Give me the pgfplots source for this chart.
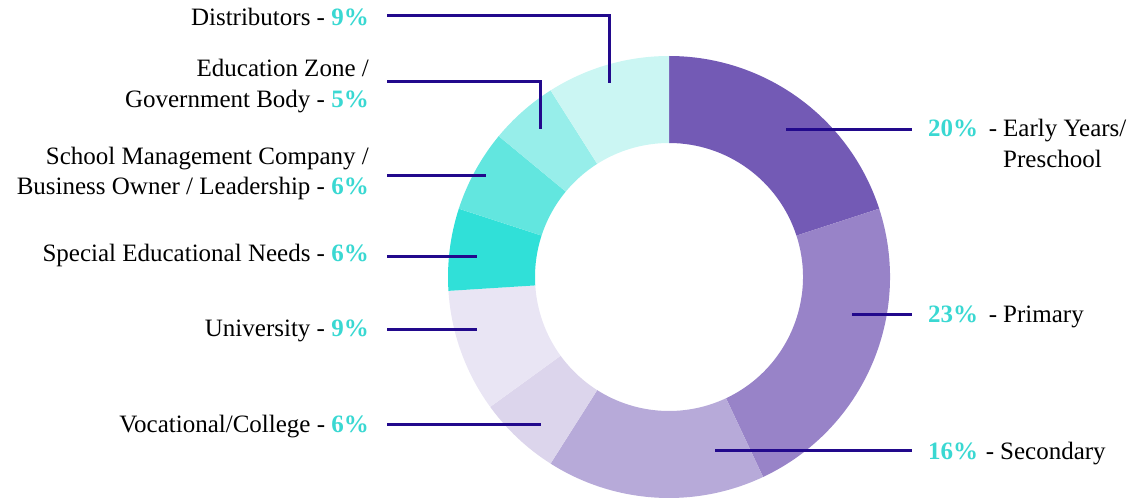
\documentclass[border=0pt]{standalone}
\usepackage{pgfplots}
\pgfplotsset{compat=1.18}
\usepackage{pgfplotstable}
\usepackage{fontspec}
\setmainfont{Liberation Serif}
\usetikzlibrary{calc}

\definecolor{c0}{HTML}{735AB5}
\definecolor{c1}{HTML}{9883C8}
\definecolor{c2}{HTML}{B7AAD9}
\definecolor{c3}{HTML}{DCD5EC}
\definecolor{c4}{HTML}{E9E5F4}
\definecolor{c5}{HTML}{30E0D8}
\definecolor{c6}{HTML}{62E6DF}
\definecolor{c7}{HTML}{97EEEA}
\definecolor{c8}{HTML}{CBF6F3}
\definecolor{leader}{HTML}{22098C}
\definecolor{pct}{HTML}{3AD8D2}

% share of each group, clockwise from the top
\pgfplotstableread[col sep=comma]{
name,value
Early Years/Preschool,20
Primary,23
Secondary,16
Vocational/College,6
University,9
Special Educational Needs,6
School Management Company,6
Education Zone,5
Distributors,9
}\slices

% cumulative start/end angles (clockwise from 90 deg)
\def\cum{0}
\foreach \i in {0,...,8}{%
  \pgfplotstablegetelem{\i}{value}\of\slices
  \pgfmathsetmacro{\a}{90-3.6*\cum}%
  \pgfmathsetmacro{\b}{90-3.6*(\cum+\pgfplotsretval)}%
  \pgfmathsetmacro{\newcum}{\cum+\pgfplotsretval}%
  \expandafter\xdef\csname sA\i\endcsname{\a}%
  \expandafter\xdef\csname sB\i\endcsname{\b}%
  \xdef\cum{\newcum}%
}

\newcommand{\lab}[1]{\fontsize{25}{30}\selectfont #1}
\newcommand{\pc}[1]{\textcolor{pct}{\bfseries #1}}

\begin{document}
\begin{tikzpicture}
\begin{axis}[
  x=1pt, y=1pt,
  xmin=0, xmax=1128, ymin=0, ymax=498,
  hide axis, clip=false,
]
\pgfplotsinvokeforeach{0,...,8}{%
  \fill[c#1] ($(axis cs:669,221)+(\csname sA#1\endcsname:221pt)$)
     arc[start angle=\csname sA#1\endcsname, end angle=\csname sB#1\endcsname, radius=221pt]
     -- ($(axis cs:669,221)+(\csname sB#1\endcsname:134pt)$)
     arc[start angle=\csname sB#1\endcsname, end angle=\csname sA#1\endcsname, radius=134pt]
     -- cycle;
}

% leader lines
\addplot[leader, line width=3pt, no marks] coordinates {(387,482) (609,482) (609,415)};
\addplot[leader, line width=3pt, no marks] coordinates {(387,416) (540,416) (540,369)};
\addplot[leader, line width=3pt, no marks] coordinates {(387,322) (486,322)};
\addplot[leader, line width=3pt, no marks] coordinates {(387,241) (477,241)};
\addplot[leader, line width=3pt, no marks] coordinates {(387,168) (477,168)};
\addplot[leader, line width=3pt, no marks] coordinates {(387,73) (541,73)};
\addplot[leader, line width=3pt, no marks] coordinates {(786,368) (912,368)};
\addplot[leader, line width=3pt, no marks] coordinates {(852,183) (912,183)};
\addplot[leader, line width=3pt, no marks] coordinates {(715,47) (912,47)};

% left labels
\node[anchor=base east, inner sep=0pt] at (axis cs:369,472) {\lab{Distributors - \pc{9\%}}};
\node[anchor=base east, inner sep=0pt] at (axis cs:369,421) {\lab{Education Zone /}};
\node[anchor=base east, inner sep=0pt] at (axis cs:369,390) {\lab{Government Body - \pc{5\%}}};
\node[anchor=base east, inner sep=0pt] at (axis cs:369,333) {\lab{School Management Company /}};
\node[anchor=base east, inner sep=0pt] at (axis cs:369,303) {\lab{Business Owner / Leadership - \pc{6\%}}};
\node[anchor=base east, inner sep=0pt] at (axis cs:369,236) {\lab{Special Educational Needs - \pc{6\%}}};
\node[anchor=base east, inner sep=0pt] at (axis cs:369,161) {\lab{University - \pc{9\%}}};
\node[anchor=base east, inner sep=0pt] at (axis cs:369,65) {\lab{Vocational/College - \pc{6\%}}};

% right labels
\node[anchor=base west, inner sep=0pt] at (axis cs:928,361) {\lab{\pc{20\%}}};
\node[anchor=base west, inner sep=0pt] at (axis cs:1003,361) {\lab{\llap{-\hspace{6pt}}Early Years/}};
\node[anchor=base west, inner sep=0pt] at (axis cs:1003,330) {\lab{Preschool}};
\node[anchor=base west, inner sep=0pt] at (axis cs:928,175) {\lab{\pc{23\%}}};
\node[anchor=base west, inner sep=0pt] at (axis cs:1003,175) {\lab{\llap{-\hspace{6pt}}Primary}};
\node[anchor=base west, inner sep=0pt] at (axis cs:928,38) {\lab{\pc{16\%}}};
\node[anchor=base west, inner sep=0pt] at (axis cs:1000,38) {\lab{\llap{-\hspace{6pt}}Secondary}};
\end{axis}
\pgfresetboundingbox
\path[use as bounding box] (current axis.south west) rectangle (current axis.north east);
\end{tikzpicture}
\end{document}
